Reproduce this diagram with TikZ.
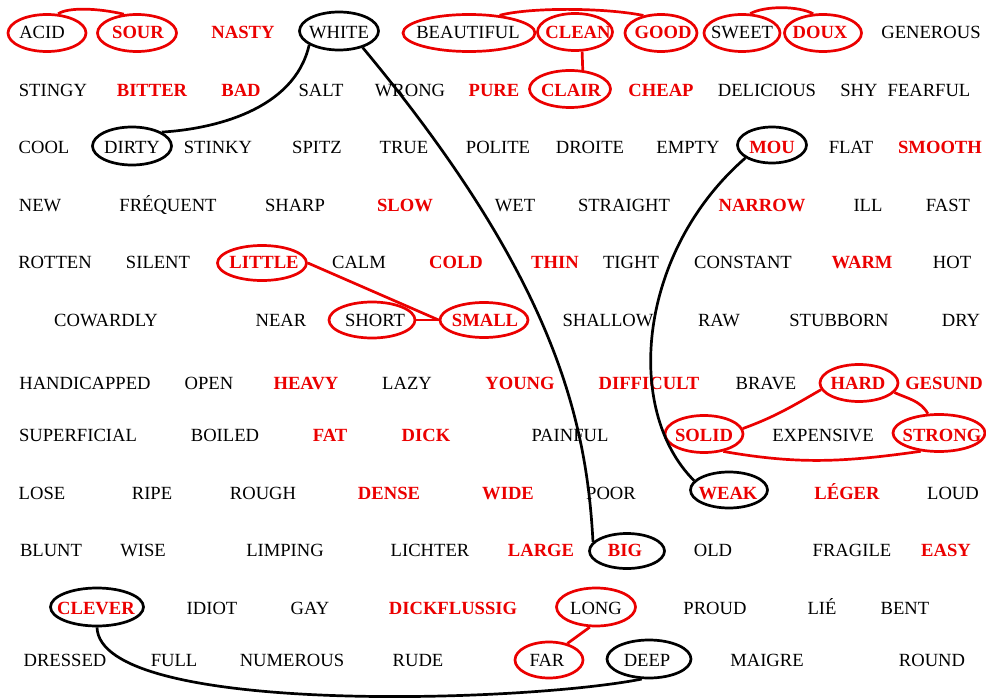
\documentclass[tikz,border=0pt]{standalone}
\usepackage{fontspec}
\setmainfont{Liberation Serif}
\usetikzlibrary{shapes.geometric}
\definecolor{rd}{RGB}{235,0,0}
\begin{document}
\begin{tikzpicture}[x=1pt,y=1pt,
  w/.style={inner sep=0pt, text height=12.3pt, text depth=0pt, anchor=center},
  wk/.style={w, text=black, font=\fontsize{18.6}{20}\selectfont},
  wr/.style={w, text=rd, font=\fontsize{18.6}{20}\selectfont\bfseries},
  rr/.style={ellipse, draw=rd, line width=2.7pt, inner sep=0pt},
  rb/.style={ellipse, draw=black, line width=2.7pt, inner sep=0pt},
  rl/.style={draw=rd, line width=2.7pt},
  bl/.style={draw=black, line width=2.7pt}]
\fill[white] (0,0) rectangle (986,-698);
\useasboundingbox (0,0) rectangle (986,-698);

% ---------- words ----------
% row 1
\node[wk] (tACID) at (42,-32.7) {ACID};
\node[wr] (tSOUR) at (138,-32.7) {SOUR};
\node[wr] (tNASTY) at (243,-32.7) {NASTY};
\node[wk] (tWHITE) at (339,-32.7) {WHITE};
\node[wk] (tBEAUTIFUL) at (468,-32.7) {BEAUTIFUL};
\node[wr] (tCLEAN) at (578,-32.7) {CLEAN};
\node[wr] (tGOOD) at (663,-32.7) {GOOD};
\node[wk] (tSWEET) at (742,-32.7) {SWEET};
\node[wr] (tDOUX) at (820,-32.7) {DOUX};
\node[wk] (tGENEROUS) at (931,-32.7) {GENEROUS};
% row 2
\node[wk] (tSTINGY) at (53,-90) {STINGY};
\node[wr] (tBITTER) at (152,-90) {BITTER};
\node[wr] (tBAD) at (241,-90) {BAD};
\node[wk] (tSALT) at (321,-90) {SALT};
\node[wk] (tWRONG) at (410,-90) {WRONG};
\node[wr] (tPURE) at (494,-90) {PURE};
\node[wr] (tCLAIR) at (571,-90) {CLAIR};
\node[wr] (tCHEAP) at (661,-90) {CHEAP};
\node[wk] (tDELICIOUS) at (767,-90) {DELICIOUS};
\node[wk] (tSHY) at (859,-90) {SHY};
\node[wk] (tFEARFUL) at (929,-90) {FEARFUL};
% row 3
\node[wk] (tCOOL) at (44,-147.7) {COOL};
\node[wk] (tDIRTY) at (132,-147.7) {DIRTY};
\node[wk] (tSTINKY) at (218,-147.7) {STINKY};
\node[wk] (tSPITZ) at (317,-147.7) {SPITZ};
\node[wk] (tTRUE) at (404,-147.7) {TRUE};
\node[wk] (tPOLITE) at (498,-147.7) {POLITE};
\node[wk] (tDROITE) at (590,-147.7) {DROITE};
\node[wk] (tEMPTY) at (688,-147.7) {EMPTY};
\node[wr] (tMOU) at (772,-147.7) {MOU};
\node[wk] (tFLAT) at (851,-147.7) {FLAT};
\node[wr] (tSMOOTH) at (940,-147.7) {SMOOTH};
% row 4
\node[wk] (tNEW) at (40,-205) {NEW};
\node[wk] (tFREQUENT) at (168,-205) {FRÉQUENT};
\node[wk] (tSHARP) at (295,-205) {SHARP};
\node[wr] (tSLOW) at (405,-205) {SLOW};
\node[wk] (tWET) at (515,-205) {WET};
\node[wk] (tSTRAIGHT) at (624,-205) {STRAIGHT};
\node[wr] (tNARROW) at (762,-205) {NARROW};
\node[wk] (tILL) at (868,-205) {ILL};
\node[wk] (tFAST) at (948,-205) {FAST};
% row 5
\node[wk] (tROTTEN) at (55,-262.7) {ROTTEN};
\node[wk] (tSILENT) at (158,-262.7) {SILENT};
\node[wr] (tLITTLE) at (264,-262.7) {LITTLE};
\node[wk] (tCALM) at (359,-262.7) {CALM};
\node[wr] (tCOLD) at (456,-262.7) {COLD};
\node[wr] (tTHIN) at (555,-262.7) {THIN};
\node[wk] (tTIGHT) at (631,-262.7) {TIGHT};
\node[wk] (tCONSTANT) at (743,-262.7) {CONSTANT};
\node[wr] (tWARM) at (862,-262.7) {WARM};
\node[wk] (tHOT) at (952,-262.7) {HOT};
% row 6
\node[wk] (tCOWARDLY) at (106,-320.3) {COWARDLY};
\node[wk] (tNEAR) at (281,-320.3) {NEAR};
\node[wk] (tSHORT) at (375,-320.3) {SHORT};
\node[wr] (tSMALL) at (485,-320.3) {SMALL};
\node[wk] (tSHALLOW) at (608,-320.3) {SHALLOW};
\node[wk] (tRAW) at (719,-320.3) {RAW};
\node[wk] (tSTUBBORN) at (839,-320.3) {STUBBORN};
\node[wk] (tDRY) at (961,-320.3) {DRY};
% row 7
\node[wk] (tHANDICAPPED) at (85,-383.3) {HANDICAPPED};
\node[wk] (tOPEN) at (209,-383.3) {OPEN};
\node[wr] (tHEAVY) at (306,-383.3) {HEAVY};
\node[wk] (tLAZY) at (407,-383.3) {LAZY};
\node[wr] (tYOUNG) at (520,-383.3) {YOUNG};
\node[wr] (tDIFFICULT) at (649,-383.3) {DIFFICULT};
\node[wk] (tBRAVE) at (766,-383.3) {BRAVE};
\node[wr] (tHARD) at (858,-383.3) {HARD};
\node[wr] (tGESUND) at (944,-383.3) {GESUND};
% row 8
\node[wk] (tSUPERFICIAL) at (78,-435.8) {SUPERFICIAL};
\node[wk] (tBOILED) at (225,-435.8) {BOILED};
\node[wr] (tFAT) at (330,-435.8) {FAT};
\node[wr] (tDICK) at (426,-435.8) {DICK};
\node[wk] (tPAINFUL) at (570,-435.8) {PAINFUL};
\node[wr] (tSOLID) at (704,-435.8) {SOLID};
\node[wk] (tEXPENSIVE) at (823,-435.8) {EXPENSIVE};
\node[wr] (tSTRONG) at (942,-435.8) {STRONG};
% row 9
\node[wk] (tLOSE) at (42,-493.3) {LOSE};
\node[wk] (tRIPE) at (152,-493.3) {RIPE};
\node[wk] (tROUGH) at (263,-493.3) {ROUGH};
\node[wr] (tDENSE) at (389,-493.3) {DENSE};
\node[wr] (tWIDE) at (508,-493.3) {WIDE};
\node[wk] (tPOOR) at (611,-493.3) {POOR};
\node[wr] (tWEAK) at (728,-493.3) {WEAK};
\node[wr] (tLEGER) at (847,-493.3) {LÉGER};
\node[wk] (tLOUD) at (953,-493.3) {LOUD};
% row 10
\node[wk] (tBLUNT) at (51,-550.8) {BLUNT};
\node[wk] (tWISE) at (143,-550.8) {WISE};
\node[wk] (tLIMPING) at (285,-550.8) {LIMPING};
\node[wk] (tLICHTER) at (430,-550.8) {LICHTER};
\node[wr] (tLARGE) at (541,-550.8) {LARGE};
\node[wr] (tBIG) at (625,-550.8) {BIG};
\node[wk] (tOLD) at (713,-550.8) {OLD};
\node[wk] (tFRAGILE) at (852,-550.8) {FRAGILE};
\node[wr] (tEASY) at (946,-550.8) {EASY};
% row 11
\node[wr] (tCLEVER) at (96,-608.3) {CLEVER};
\node[wk] (tIDIOT) at (212,-608.3) {IDIOT};
\node[wk] (tGAY) at (310,-608.3) {GAY};
\node[wr] (tDICKFLUSSIG) at (453,-608.3) {DICKFLUSSIG};
\node[wk] (tLONG) at (596,-608.3) {LONG};
\node[wk] (tPROUD) at (715,-608.3) {PROUD};
\node[wk] (tLIE) at (822,-608.3) {LIÉ};
\node[wk] (tBENT) at (905,-608.3) {BENT};
% row 12
\node[wk] (tDRESSED) at (65,-660.3) {DRESSED};
\node[wk] (tFULL) at (174,-660.3) {FULL};
\node[wk] (tNUMEROUS) at (292,-660.3) {NUMEROUS};
\node[wk] (tRUDE) at (418,-660.3) {RUDE};
\node[wk] (tFAR) at (547,-660.3) {FAR};
\node[wk] (tDEEP) at (647,-660.3) {DEEP};
\node[wk] (tMAIGRE) at (767,-660.3) {MAIGRE};
\node[wk] (tROUND) at (932,-660.3) {ROUND};

% ---------- rings ----------
\node[rr, minimum width=78pt, minimum height=37pt] (eACID) at (47,-33) {};
\node[rr, minimum width=79pt, minimum height=37pt] (eSOUR) at (137,-33) {};
\node[rb, minimum width=79pt, minimum height=38pt] (eWHITE) at (339,-31) {};
\node[rr, minimum width=132pt, minimum height=37pt] (eBEAUTIFUL) at (469,-33) {};
\node[rr, minimum width=75pt, minimum height=37pt] (eCLEAN) at (575,-32) {};
\node[rr, minimum width=72pt, minimum height=37pt] (eGOOD) at (661,-33) {};
\node[rr, minimum width=76pt, minimum height=37pt] (eSWEET) at (742,-33) {};
\node[rr, minimum width=77pt, minimum height=37pt] (eDOUX) at (823,-33) {};
\node[rr, minimum width=81pt, minimum height=37pt] (eCLAIR) at (570,-89) {};
\node[rb, minimum width=79pt, minimum height=38pt] (eDIRTY) at (132,-146) {};
\node[rb, minimum width=69pt, minimum height=36pt] (eMOU) at (772,-145) {};
\node[rr, minimum width=89pt, minimum height=35pt] (eLITTLE) at (262,-263) {};
\node[rr, minimum width=86pt, minimum height=36pt] (eSHORT) at (372,-320) {};
\node[rr, minimum width=88pt, minimum height=35pt] (eSMALL) at (484,-320) {};
\node[rr, minimum width=78pt, minimum height=37pt] (eHARD) at (859,-383) {};
\node[rr, minimum width=78pt, minimum height=37pt] (eSOLID) at (704,-434) {};
\node[rr, minimum width=92pt, minimum height=37pt] (eSTRONG) at (939,-433) {};
\node[rb, minimum width=77pt, minimum height=36pt] (eWEAK) at (729,-490) {};
\node[rb, minimum width=75pt, minimum height=35pt] (eBIG) at (627,-551) {};
\node[rb, minimum width=93pt, minimum height=38pt] (eCLEVER) at (97,-607) {};
\node[rr, minimum width=79pt, minimum height=38pt] (eLONG) at (596,-607) {};
\node[rr, minimum width=68pt, minimum height=36pt] (eFAR) at (549,-660) {};
\node[rb, minimum width=84pt, minimum height=38pt] (eDEEP) at (649,-659) {};

% ---------- connectors ----------
\draw[rl] (eACID.60) .. controls +(10,7) and +(-25,6) .. (eSOUR.125);
\draw[rl] (eBEAUTIFUL.30) .. controls +(30,8) and +(-40,8) .. (eGOOD.135);
\draw[rl] (eSWEET.67) .. controls +(15,8) and +(-15,8) .. (eDOUX.117);
\draw[rl] (eCLEAN.-70) -- (eCLAIR.56);
\draw[rl] (eLITTLE.east) -- (eSMALL.west);
\draw[rl] (eSHORT.east) -- (eSMALL.west);
\draw[rl] (eSOLID.8) to[out=20, in=-150] (eHARD.190);
\draw[rl] (eHARD.-15) to[out=-25, in=120] (eSTRONG.120);
\draw[rl] (eSOLID.-42) to[out=-10, in=-172] (eSTRONG.-135);
\draw[rl] (eLONG.-107) -- (eFAR.42);

\draw[bl] (eWHITE.-155) .. controls +(-15,-66) and +(50,3) .. (eDIRTY.25);
\draw[bl] (eWHITE.-35) .. controls +(192,-231) and +(-6.5,122) .. (eBIG.165);
\draw[bl] (eMOU.-154) .. controls +(-107,-93) and +(-71,71) .. (eWEAK.165);
\draw[bl] (eCLEVER.south) .. controls +(3,-88) and +(-122,-24) .. (eDEEP.-110);
\end{tikzpicture}
\end{document}
